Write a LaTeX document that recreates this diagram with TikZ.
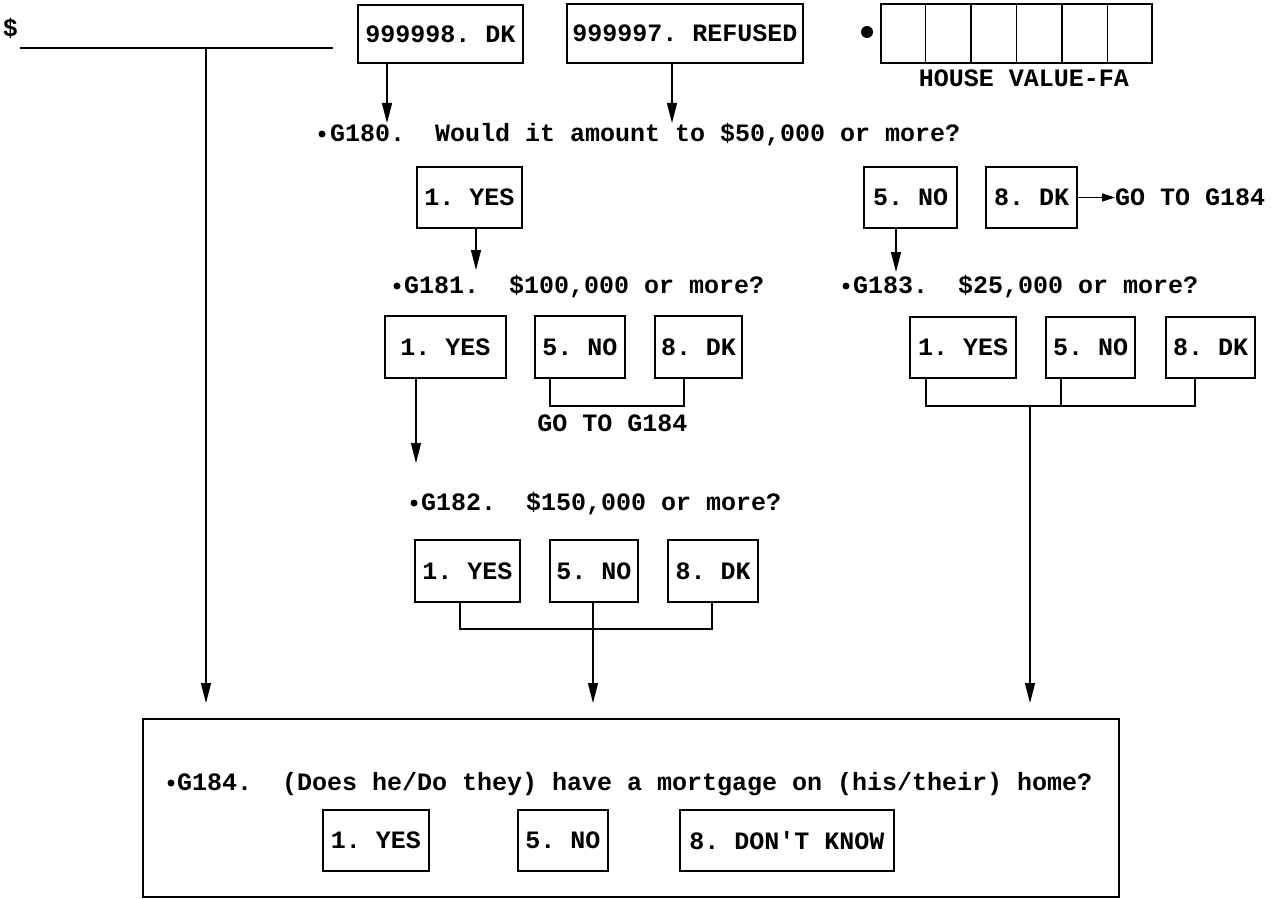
\documentclass[tikz,border=0pt]{standalone}
\usepackage{fontspec}
\setmonofont{Liberation Mono}
\usetikzlibrary{arrows.meta,calc}
\begin{document}
\begin{tikzpicture}[x=1pt,y=-1pt,
  every node/.style={font=\fontsize{25}{30}\selectfont\ttfamily\bfseries\frenchspacing, inner sep=0pt},
  ans/.style={draw, line width=1.7pt, minimum height=61pt},
  conn/.style={line width=1.3pt},
  arr/.style={conn, -{Triangle[length=20pt,width=10pt]}},
  lab/.style={anchor=base west},
  dot/.style={circle, fill, minimum size=7pt, inner sep=0pt},
]
\useasboundingbox (0,0) rectangle (1278,899);

% top row
\node[anchor=base] (dollar) at (10.5,37) {\$};
\coordinate (lineL) at (20,48);
\coordinate (lineR) at (333,48);
\coordinate (lineT) at (206,48);
\draw[line width=2.2pt] (lineL) -- (lineR);

\node[ans, minimum width=165pt, minimum height=58pt] (dk) at (440.5,34) {999998. DK};
\node[ans, minimum width=236pt, minimum height=59pt] (ref) at (685,33.5) {999997. REFUSED};
\node[dot, minimum size=12pt] (hvdot) at (867,32) {};
\node[draw, line width=1.7pt, minimum width=271pt, minimum height=59pt] (hv) at (1016.5,33.5) {};
\foreach \i in {1,...,5}
  \draw[line width=1.3pt] ($(hv.north west)!\i/6!(hv.north east)$) -- ($(hv.south west)!\i/6!(hv.south east)$);
\node (hvlab) at (1024,78) {HOUSE VALUE-FA};

\coordinate (t1) at (387,123);
\draw[arr] (dk.south -| t1) -- (t1);
\coordinate (t2) at (672,123);
\draw[arr] (ref.south -| t2) -- (t2);

% G180
\node[dot] (b180) at (322,134) {};
\node[lab] (q180) at (330,141) {G180.\ \ Would it amount to \$50,000 or more?};
\node[ans, minimum width=105pt] (y180) at (469.5,197.5) {1. YES};
\node[ans, minimum width=93pt] (n180) at (910.5,197.5) {5. NO};
\node[ans, minimum width=91pt] (d180) at (1031.5,197.5) {8. DK};
\node[anchor=west] (go180) at (1115,197.5) {GO TO G184};
\draw[conn, -{Triangle[length=13pt,width=8pt]}] (d180.east) -- (go180.west);
\coordinate (t3) at (476,270);
\draw[arr] (y180.south -| t3) -- (t3);
\coordinate (t4) at (896,272);
\draw[arr] (n180.south -| t4) -- (t4);

% G181 / G183
\node[dot] (b181) at (397,286) {};
\node[lab] (q181) at (404,293) {G181.\ \ \$100,000 or more?};
\node[dot] (b183) at (846,286) {};
\node[lab] (q183) at (853,293) {G183.\ \ \$25,000 or more?};

\node[ans, minimum width=121pt, minimum height=62pt] (y181) at (445.5,347) {1. YES\hspace{17pt}};
\node[ans, minimum width=90pt, minimum height=62pt] (n181) at (580,347) {5. NO};
\node[ans, minimum width=87pt, minimum height=62pt] (d181) at (698.5,347) {8. DK};
\coordinate (t5) at (416,463);
\draw[arr] (y181.south -| t5) -- (t5);
\coordinate (k1) at (550,406);
\coordinate (k2) at (684,406);
\draw[conn] (n181.south -| k1) -- (k1) -- (k2) -- (d181.south -| k2);
\node[anchor=north] (go181) at (612.5,415) {GO TO G184};

\node[ans, minimum width=106pt] (y183) at (963,347.5) {1. YES};
\node[ans, minimum width=89pt] (n183) at (1090.5,347.5) {5. NO};
\node[ans, minimum width=89pt] (d183) at (1210.5,347.5) {8. DK};
\coordinate (r1) at (926,406);
\coordinate (r2) at (1195,406);
\coordinate (r3) at (1061,406);
\coordinate (r4) at (1030,406);
\draw[conn] (y183.south -| r1) -- (r1) -- (r2) -- (d183.south -| r2);
\draw[conn] (n183.south -| r3) -- (r3);
\coordinate (t7) at (1030,703);
\draw[arr] (r4) -- (t7);

% G182
\node[dot] (b182) at (414,503) {};
\node[lab] (q182) at (421,510) {G182.\ \ \$150,000 or more?};
\node[ans, minimum width=105pt, minimum height=62pt] (y182) at (467.5,571) {1. YES};
\node[ans, minimum width=88pt, minimum height=62pt] (n182) at (594,571) {5. NO};
\node[ans, minimum width=90pt, minimum height=62pt] (d182) at (713,571) {8. DK};
\coordinate (m1) at (460,629);
\coordinate (m2) at (712,629);
\coordinate (m3) at (593,629);
\draw[conn] (y182.south -| m1) -- (m1) -- (m2) -- (d182.south -| m2);
\draw[conn] (n182.south -| m3) -- (m3);
\coordinate (t6) at (593,703);
\draw[arr] (m3) -- (t6);

% left long line
\coordinate (t8) at (206,703);
\draw[arr] (lineT) -- (t8);

% G184
\node[draw, line width=1.7pt, minimum width=976pt, minimum height=178pt] (g184) at (631,808) {};
\node[dot] (b184) at (171,783) {};
\node[lab] (q184) at (177,790) {G184.\ \ (Does he/Do they) have a mortgage on (his/their) home?};
\node[ans, minimum width=106pt] (y184) at (376,840.5) {1. YES};
\node[ans, minimum width=90pt] (n184) at (563,840.5) {5. NO};
\node[ans, minimum width=214pt] (k184) at (787,840.5) {8. DON'T KNOW};
\end{tikzpicture}
\end{document}
